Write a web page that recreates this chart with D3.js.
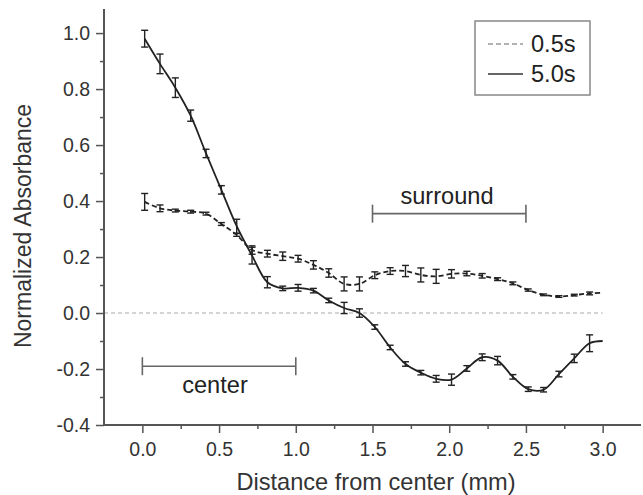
<!DOCTYPE html>
<html>
<head>
<meta charset="utf-8">
<script src="https://cdn.jsdelivr.net/npm/d3@7"></script>
<style>
  html, body { margin: 0; padding: 0; background: #fff; }
  svg { display: block; font-family: "Liberation Sans", Arial, sans-serif; }
</style>
</head>
<body>
<svg id="chart" width="643" height="495"></svg>
<script>
// Sample positions (mm from center)
const distance = [0.015, 0.115, 0.215, 0.315, 0.415, 0.515, 0.615, 0.715, 0.815, 0.915,
                  1.015, 1.115, 1.215, 1.315, 1.415, 1.515, 1.615, 1.715, 1.815, 1.915,
                  2.015, 2.115, 2.215, 2.315, 2.415, 2.515, 2.615, 2.715, 2.815, 2.915, 3.0];

// 0.5 s exposure: mean and error
const abs05 = [0.397, 0.374, 0.366, 0.362, 0.355, 0.318, 0.279, 0.225, 0.212, 0.203,
               0.194, 0.172, 0.143, 0.104, 0.104, 0.135, 0.150, 0.150, 0.136, 0.131,
               0.140, 0.141, 0.133, 0.121, 0.106, 0.082, 0.065, 0.059, 0.064, 0.070, 0.072];
const err05 = [0.030, 0.012, 0.005, 0.005, 0.005, 0.005, 0.005, 0.015, 0.012, 0.015,
               0.012, 0.015, 0.015, 0.025, 0.025, 0.012, 0.012, 0.020, 0.025, 0.025,
               0.015, 0.008, 0.008, 0.005, 0.005, 0.004, 0.003, 0.003, 0.003, 0.005, 0.0];

// 5.0 s exposure: mean and error
const abs50 = [0.980, 0.890, 0.805, 0.705, 0.570, 0.440, 0.310, 0.205, 0.110, 0.088,
               0.090, 0.080, 0.045, 0.018, 0.000, -0.050, -0.123, -0.182, -0.213, -0.235,
               -0.238, -0.198, -0.158, -0.170, -0.228, -0.272, -0.274, -0.218, -0.162, -0.108, -0.100];
const err50 = [0.030, 0.035, 0.035, 0.020, 0.015, 0.015, 0.025, 0.030, 0.020, 0.008,
               0.012, 0.008, 0.008, 0.020, 0.015, 0.008, 0.008, 0.008, 0.008, 0.012,
               0.020, 0.010, 0.012, 0.015, 0.008, 0.008, 0.008, 0.010, 0.015, 0.030, 0.0];

const xTicks = [0.0, 0.5, 1.0, 1.5, 2.0, 2.5, 3.0];
const yTicks = [-0.4, -0.2, 0.0, 0.2, 0.4, 0.6, 0.8, 1.0];
const seriesNames = ["0.5s", "5.0s"];

// Region markers
const regions = [
  { label: "center",   from: 0.0, to: 1.0, level: -0.19 },
  { label: "surround", from: 1.5, to: 2.5, level: 0.355 }
];

const svg = d3.select("#chart");
const ink = "#222";
const axisInk = "#555";
const textInk = "#333";
const isMajor = (list, d) => list.some(t => Math.abs(t - d) < 1e-9);
const fmt = d => d.toFixed(1); // plain hyphen for negatives

const x = d3.scaleLinear().domain([-0.25, 3.25]).range([104, 641]);
const y = d3.scaleLinear().domain([-0.4, 1.086]).range([425, 9]);

// zero reference
svg.append("line")
  .attr("x1", x(-0.25)).attr("x2", x(3.0))
  .attr("y1", y(0)).attr("y2", y(0))
  .attr("stroke", "#aaa").attr("stroke-width", 1.2)
  .attr("stroke-dasharray", "4,3");

// x axis
const xAxis = svg.append("g").attr("transform", `translate(0,${y(-0.4)})`);
xAxis.call(d3.axisBottom(x).tickValues(d3.range(0, 3.01, 0.25)).tickSize(4).tickFormat(""));
xAxis.selectAll(".tick").filter(d => isMajor(xTicks, d)).select("line").attr("y2", 8);
xAxis.selectAll(".tick").filter(d => isMajor(xTicks, d)).select("text")
  .text(fmt).attr("y", 17).attr("font-size", 19.5).attr("fill", textInk);
xAxis.selectAll(".tick line").attr("stroke", axisInk).attr("stroke-width", 1.5);

// y axis
const yAxis = svg.append("g").attr("transform", `translate(${x(-0.25)},0)`);
yAxis.call(d3.axisLeft(y).tickValues(d3.range(-4, 11).map(v => v / 10)).tickSize(4).tickFormat(""));
yAxis.selectAll(".tick").filter(d => isMajor(yTicks, d)).select("line").attr("x2", -8);
yAxis.selectAll(".tick").filter(d => isMajor(yTicks, d)).select("text")
  .text(fmt).attr("x", -14).attr("font-size", 19.5).attr("fill", textInk);
yAxis.selectAll(".tick line").attr("stroke", axisInk).attr("stroke-width", 1.5);

// spines without end caps
svg.selectAll(".domain").remove();
svg.append("line").attr("x1", x(-0.25)).attr("x2", x(3.25)).attr("y1", y(-0.4)).attr("y2", y(-0.4))
  .attr("stroke", axisInk).attr("stroke-width", 2);
svg.append("line").attr("x1", x(-0.25)).attr("x2", x(-0.25)).attr("y1", y(-0.4)).attr("y2", y(1.086))
  .attr("stroke", axisInk).attr("stroke-width", 2);

// axis titles
svg.append("text").attr("x", 376).attr("y", 490)
  .attr("text-anchor", "middle").attr("font-size", 23.6).attr("fill", textInk)
  .text("Distance from center (mm)");
svg.append("text").attr("transform", "translate(31,226) rotate(-90)")
  .attr("text-anchor", "middle").attr("font-size", 23).attr("fill", textInk)
  .text("Normalized Absorbance");

// series
const line = d3.line().x(d => x(d.d)).y(d => y(d.v)).curve(d3.curveCatmullRom.alpha(0.5));
const series = [
  { name: seriesNames[0], vals: abs05, errs: err05, dash: "5,3" },
  { name: seriesNames[1], vals: abs50, errs: err50, dash: null }
];

series.forEach(s => {
  const pts = distance.map((d, i) => ({ d, v: s.vals[i], e: s.errs[i] }));
  svg.append("path").datum(pts)
    .attr("d", line).attr("fill", "none")
    .attr("stroke", ink).attr("stroke-width", 1.8)
    .attr("stroke-dasharray", s.dash);
  const eb = svg.append("g").attr("stroke", ink).attr("stroke-width", 1.4);
  pts.filter(p => p.e > 0).forEach(p => {
    const cx = x(p.d), y0 = y(p.v + p.e), y1 = y(p.v - p.e);
    eb.append("line").attr("x1", cx).attr("x2", cx).attr("y1", y0).attr("y2", y1);
    eb.append("line").attr("x1", cx - 3.5).attr("x2", cx + 3.5).attr("y1", y0).attr("y2", y0);
    eb.append("line").attr("x1", cx - 3.5).attr("x2", cx + 3.5).attr("y1", y1).attr("y2", y1);
  });
});

// region brackets
regions.forEach(r => {
  const g = svg.append("g").attr("stroke", "#666").attr("stroke-width", 1.6);
  const yy = y(r.level);
  g.append("line").attr("x1", x(r.from)).attr("x2", x(r.to)).attr("y1", yy).attr("y2", yy);
  g.append("line").attr("x1", x(r.from)).attr("x2", x(r.from)).attr("y1", yy - 9).attr("y2", yy + 9);
  g.append("line").attr("x1", x(r.to)).attr("x2", x(r.to)).attr("y1", yy - 9).attr("y2", yy + 9);
});
svg.append("text").attr("x", 447).attr("y", y(0.355) - 10)
  .attr("text-anchor", "middle").attr("font-size", 23.6).attr("fill", ink).text(regions[1].label);
svg.append("text").attr("x", 215).attr("y", y(-0.19) + 27)
  .attr("text-anchor", "middle").attr("font-size", 23.6).attr("fill", ink).text(regions[0].label);

// legend
const lg = svg.append("g");
lg.append("rect").attr("x", 475).attr("y", 21).attr("width", 115).attr("height", 74)
  .attr("fill", "#fff").attr("stroke", "#888").attr("stroke-width", 1.5);
[0, 1].forEach(i => {
  const ly = 44 + i * 30;
  lg.append("line").attr("x1", 488).attr("x2", 523).attr("y1", ly).attr("y2", ly)
    .attr("stroke", i === 0 ? "#999" : "#333").attr("stroke-width", 1.6)
    .attr("stroke-dasharray", i === 0 ? "5,3" : null);
  lg.append("text").attr("x", 531).attr("y", ly + 8).attr("font-size", 23.6)
    .attr("fill", ink).text(seriesNames[i]);
});
</script>
</body>
</html>
